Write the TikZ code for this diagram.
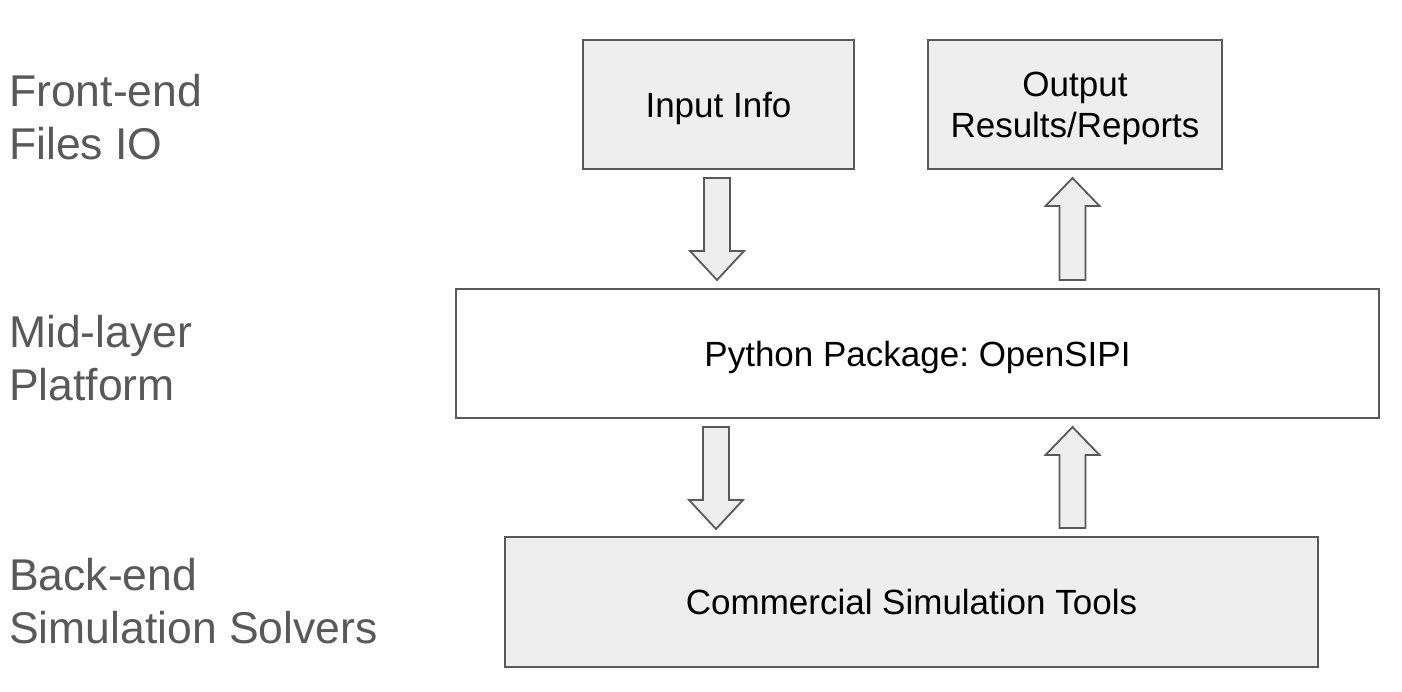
\documentclass[tikz,border=0pt]{standalone}
\usepackage{fontspec}
\setmainfont{Liberation Sans}
\usetikzlibrary{calc}
\frenchspacing
\definecolor{boxfill}{HTML}{EEEEEE}
\definecolor{boxline}{HTML}{595959}
\definecolor{labelgray}{HTML}{595959}
\tikzset{
  box/.style={draw=boxline, line width=1.8pt, fill=boxfill, inner sep=0pt,
    align=center, text depth=0pt, font=\fontsize{35}{41}\selectfont},
  whitebox/.style={box, fill=white},
  layerlabel/.style={text=labelgray, align=left, inner sep=0pt,
    font=\fontsize{44.5}{53}\selectfont},
  blockarrow/.style={draw=boxline, line width=1.8pt, fill=boxfill, line join=miter}
}
\newcommand\DownBlock[2]{%
  \draw[blockarrow] ($(#1)+(-13,0)$) -- ($(#1)+(13,0)$) -- ($(#2)+(13,-29)$)
    -- ($(#2)+(27,-29)$) -- (#2) -- ($(#2)+(-27,-29)$) -- ($(#2)+(-13,-29)$) -- cycle;}
\newcommand\UpBlock[2]{%
  \draw[blockarrow] ($(#1)+(-13,0)$) -- ($(#1)+(13,0)$) -- ($(#2)+(13,28)$)
    -- ($(#2)+(27,28)$) -- (#2) -- ($(#2)+(-27,28)$) -- ($(#2)+(-13,28)$) -- cycle;}
\begin{document}
\begin{tikzpicture}[x=1pt,y=-1pt]
\useasboundingbox[fill=white] (0,0) rectangle (1402,692);
% layer labels (anchor at baseline of last line)
\node[layerlabel, anchor=base west] (lfront) at (9,160) {Front-end\\Files IO};
\node[layerlabel, anchor=base west] (lmid) at (9,400) {Mid-layer\\Platform};
\node[layerlabel, anchor=base west] (lback) at (9,643) {Back-end\\Simulation Solvers};
% boxes
\node[box, minimum width=271pt, minimum height=129pt] (in) at (718.5,104.5) {Input Info};
\node[box, minimum width=294pt, minimum height=129pt] (out) at (1075,104.5) {Output\\Results/Reports};
\node[whitebox, minimum width=923pt, minimum height=129pt] (py) at (917.5,353.5) {Python Package: OpenSIPI};
\node[box, minimum width=813pt, minimum height=130pt] (cm) at (911.5,602) {Commercial Simulation Tools};
% block arrows
\coordinate (d1a) at (717,178); \coordinate (d1b) at (717,280);
\coordinate (u1a) at (1072.5,280); \coordinate (u1b) at (1072.5,178);
\coordinate (d2a) at (716,427); \coordinate (d2b) at (716,529);
\coordinate (u2a) at (1072.5,528); \coordinate (u2b) at (1072.5,427);
\DownBlock{d1a}{d1b}
\UpBlock{u1a}{u1b}
\DownBlock{d2a}{d2b}
\UpBlock{u2a}{u2b}
\end{tikzpicture}
\end{document}
